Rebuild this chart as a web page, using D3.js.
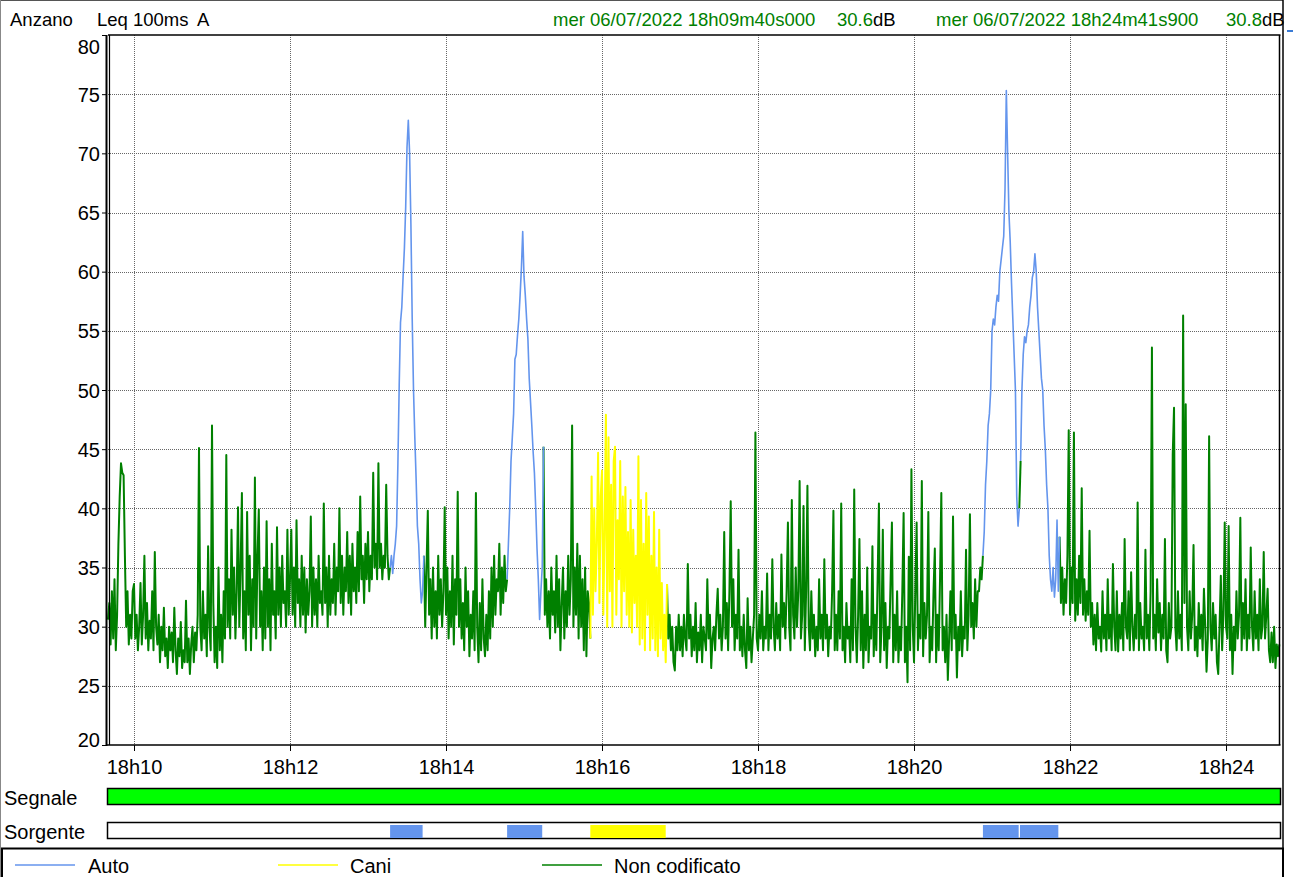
<!DOCTYPE html>
<html>
<head>
<meta charset="utf-8">
<script src="https://cdn.jsdelivr.net/npm/d3@7"></script>
<style>
  body { margin: 0; background: #fff; }
  svg { display: block; font-family: Arial, 'Liberation Sans', sans-serif; }
</style>
</head>
<body>
<svg width="1293" height="877"></svg>
<script>

const levels = [
  30.6, 32, 28.5, 33, 29, 34, 28, 31, 37, 41,
  43.8, 43, 42.8, 36, 30, 33, 28.5, 31, 29, 33,
  33.6, 29, 31, 28, 30, 33.7, 28.5, 31, 36, 29,
  32, 28, 30.5, 29, 33, 28, 36.3, 30, 28.5, 31,
  27, 30, 28, 31.6, 27.5, 29, 26.5, 30, 28, 29.5,
  27, 31.6, 28, 26, 29, 27.5, 30.4, 26.5, 28, 27,
  32.2, 27, 29, 26, 28.5, 30, 27, 29.5, 28, 31,
  45.1, 30, 28, 33, 29, 31, 27.5, 36.8, 30, 28,
  47, 32, 27, 30, 26.5, 35, 28, 31, 27, 33,
  29, 44.5, 30, 34, 29, 38.2, 31, 35, 29, 33,
  40.1, 30, 35, 41.3, 29, 33, 28, 39.7, 31, 36,
  28, 34, 30, 42.6, 29, 36, 39.9, 30, 33, 28,
  35, 29, 38.9, 30, 34, 28, 37, 31, 33, 29,
  38.4, 31, 35, 30, 36, 32, 33, 30, 38.2, 31,
  34, 38.2, 31, 35, 30, 39, 32, 34, 30, 36,
  31, 35, 29.5, 34, 31, 33, 39.3, 30, 35, 31,
  34, 30, 36, 32, 33, 31, 40.4, 32, 35, 30,
  36, 31, 34, 32, 37, 31, 35, 33, 40, 32,
  36, 31, 35, 33, 38, 32, 36, 31, 37, 33,
  35, 32, 38, 33, 41, 34, 36, 32, 37, 34,
  38, 33, 36, 34, 43, 35, 37, 34, 43.8, 35,
  37, 34, 36, 35, 42, 36, 34, 35, 36, 34.5,
  36, 37, 38.5, 43.8, 50.4, 55.7, 57, 59.6, 62, 65.5,
  70.5, 72.8, 70, 64, 56, 50, 46, 42.5, 38.5, 37,
  34, 32, 33, 36, 30, 35, 39.8, 31, 34, 29,
  35, 30, 33, 29, 36, 31, 34, 30, 33, 40.1,
  31, 35, 29, 33, 30, 36, 28.5, 34, 31, 41.4,
  30, 34, 29, 32, 28, 35, 30, 33, 27.5, 31,
  29, 33, 28, 41.3, 30, 27, 32, 28, 34, 29,
  27.5, 31, 28, 33, 29, 35, 30, 36, 31, 34,
  33, 37, 31, 35, 32, 36, 33, 34, 37, 40,
  44, 46, 48, 52.6, 53, 54.6, 56, 58, 60.3, 63.4,
  59.6, 58, 56, 54.3, 51, 49, 47, 44.8, 43, 40,
  36.6, 34, 30.6, 33, 35, 45.2, 31, 34, 30, 33,
  29, 35, 31, 33, 29.5, 36, 30, 34, 28, 32,
  35, 29, 33, 30, 36, 31, 34, 47, 30, 35,
  31, 37, 29, 36, 30, 34, 28, 35, 27.5, 33,
  32, 29, 42.7, 31, 40, 33, 37, 44.7, 32, 41,
  43.2, 31, 38, 47.9, 30, 46, 33, 42, 30, 44,
  45.2, 31, 39, 34, 44, 30, 41, 33, 41.8, 31,
  38, 30, 40.7, 29.5, 38.2, 32, 36, 30, 44.4, 28.5,
  40.7, 29, 37, 28, 41.3, 31, 39.3, 28, 36, 29,
  39.7, 28, 35, 27.5, 38.2, 29, 33.7, 28, 31, 27,
  33.6, 29, 31, 28, 30, 27, 26.3, 30, 28, 31,
  28, 30, 27.5, 31, 29, 28, 35.3, 29, 31, 27.5,
  30, 28, 32, 27, 29.5, 28, 31, 27, 30, 29,
  28, 34, 29, 31, 26.5, 29, 30, 28, 31, 33.2,
  29, 31, 28, 30, 38, 29, 32, 28, 33, 40.6,
  30, 34, 28, 31, 29, 36.5, 28, 30, 27.5, 31,
  28, 26.5, 32.4, 28, 30, 27, 29, 31, 46.4, 29,
  28, 31, 29, 33, 28, 30, 29, 34.5, 28, 31,
  29, 35.7, 30, 28, 32, 29, 31, 28, 36.1, 30,
  32, 29, 33, 38.8, 30, 28, 40.7, 31, 29, 35,
  30, 33, 42.3, 29, 31, 40.2, 28, 33, 41.9, 30,
  28, 33, 29, 31, 27.5, 30, 28, 34, 29, 31,
  28, 35.7, 29, 31, 27.5, 30, 29, 33, 39.8, 28,
  31, 28, 33, 29, 40.4, 28, 30, 27, 32, 29,
  30, 27, 34, 28, 41.6, 30, 27, 31, 37.4, 28,
  33, 26.5, 31, 28, 35, 27, 30, 29, 36.8, 27.5,
  31, 28, 34, 40.4, 27, 30, 38.2, 28, 32, 26.5,
  30, 29, 34, 38.8, 27, 31, 28, 33, 27, 30,
  28, 33, 39.6, 27, 30, 25.3, 35.9, 28, 43.3, 30,
  27, 33, 38.8, 28, 31, 29, 42.3, 27.5, 32, 29,
  31, 39.7, 27, 30, 28, 33, 36.6, 27, 31, 28,
  34, 41.3, 28, 30, 27, 31, 25.5, 29, 33, 28,
  39.3, 29, 31, 25.7, 30, 28, 33, 27.5, 30, 29,
  36.5, 28, 31, 39.5, 30, 32, 29, 34, 30, 33,
  33, 35, 34, 36, 38, 42, 44, 47, 48, 50,
  55, 56, 55.5, 57, 58, 57.5, 60, 61, 62, 63,
  67, 75.3, 70, 65, 62.5, 59, 56, 53, 50, 41,
  38.5, 40, 44, 50, 53, 54.5, 54, 55, 55.5, 57,
  58, 59.5, 60, 61.5, 60, 57, 55, 53, 51, 50,
  47, 45, 42, 40, 36, 34, 33, 35, 32.5, 34,
  39, 33, 37.6, 32, 35, 31, 34, 32, 36, 46.6,
  31, 35, 32, 46.4, 30.5, 34, 31, 36, 32, 41.7,
  31, 34, 30.5, 33, 31, 38.1, 30, 32, 28.5, 31,
  28, 32, 29, 30, 27.9, 33, 29, 31, 28, 34,
  29, 31, 28, 35.3, 30, 28, 33, 27.9, 31, 29,
  32, 28, 37.4, 30, 29, 33, 28, 34.6, 30, 28,
  31, 29, 40.5, 28, 32, 29, 30, 28, 36.5, 29,
  31, 28, 33, 53.6, 29, 31, 28, 34, 29.5, 32,
  28, 31, 29, 37.4, 28, 27, 32, 29, 30, 44.5,
  48.5, 30, 28, 33, 29, 31, 28, 56.3, 32, 48.8,
  30, 28, 33, 29, 31, 36.9, 28, 30, 27.5, 32,
  29, 31, 28, 33.2, 30, 26.2, 29, 46.1, 30, 28,
  32, 29, 31, 27, 26, 30, 34.3, 28, 31, 38.8,
  30, 29, 38.5, 28, 31, 26, 30, 28, 33, 29,
  31, 39.2, 28, 32, 29, 34, 28, 31, 29, 36.7,
  30, 28, 33, 29, 31, 28, 34, 29, 30, 36.3,
  29, 31, 33.2, 28, 27, 29.5, 27, 30, 26.5, 28.5,
  27.5, 28.5
];

// seconds after the start that were coded to a source
const autoSpans = [[217, 242], [307, 334], [673, 700.5], [701.5, 731]];
const caniSpans = [[371, 429]];

const sources = ['Auto', 'Cani', 'Non codificato'];
const sourceColors = ['#6495ed', '#ffff00', '#008000'];

const yTicks = [20, 25, 30, 35, 40, 45, 50, 55, 60, 65, 70, 75, 80];
const startTime = new Date(2022, 6, 6, 18, 9, 40, 0);
const endTime = new Date(2022, 6, 6, 18, 24, 41, 900);

const titleParts = ['Anzano', 'Leq 100ms', 'A'];
const cursors = [
  { label: 'mer 06/07/2022 18h09m40s000', value: '30.6' },
  { label: 'mer 06/07/2022 18h24m41s900', value: '30.8' }
];

const svg = d3.select('svg');
const pLeft = 108, pRight = 1280.5, pTop = 35, pBottom = 745;

const x = d3.scaleTime().domain([startTime, endTime]).range([pLeft, pRight]);
const y = d3.scaleLinear().domain([20, 80]).range([pBottom, pTop]);

// outer frame
svg.append('line').attr('x1', 0).attr('x2', 1283).attr('y1', 0.5).attr('y2', 0.5).attr('stroke', '#555');
svg.append('line').attr('x1', 0.5).attr('x2', 0.5).attr('y1', 0).attr('y2', 877).attr('stroke', '#888');
svg.append('line').attr('x1', 1283).attr('x2', 1283).attr('y1', 0).attr('y2', 877).attr('stroke', '#000').attr('stroke-width', 1.5);
svg.append('line').attr('x1', 1287).attr('x2', 1293).attr('y1', 31).attr('y2', 31).attr('stroke', '#3a7bd5').attr('stroke-width', 2);

// header
const head = svg.append('g').attr('font-size', 18.5);
[10, 97, 197].forEach(function (px, i) {
  head.append('text').attr('x', px).attr('y', 26).text(titleParts[i]);
});
[[553, 837], [936, 1226]].forEach(function (p, i) {
  head.append('text').attr('x', p[0]).attr('y', 26).attr('fill', '#008000').text(cursors[i].label);
  const t = head.append('text').attr('x', p[1]).attr('y', 26);
  t.append('tspan').attr('fill', '#008000').text(cursors[i].value);
  t.append('tspan').attr('fill', '#000').text('dB');
});

// grid
const grid = svg.append('g').attr('stroke', '#666').attr('stroke-dasharray', '1,1').attr('shape-rendering', 'crispEdges');
grid.selectAll('.hg').data(yTicks.slice(1, -1)).enter().append('line')
  .attr('x1', pLeft).attr('x2', pRight)
  .attr('y1', function (d) { return Math.round(y(d)) + 0.5; })
  .attr('y2', function (d) { return Math.round(y(d)) + 0.5; });
grid.selectAll('.vg').data(x.ticks(d3.timeMinute.every(2))).enter().append('line')
  .attr('y1', pTop).attr('y2', pBottom)
  .attr('x1', function (d) { return Math.round(x(d)) + 0.5; })
  .attr('x2', function (d) { return Math.round(x(d)) + 0.5; });

// series, split into runs coloured by the coded source
function sourceOf(t) {
  if (autoSpans.some(function (s) { return t >= s[0] && t <= s[1]; })) return 0;
  if (caniSpans.some(function (s) { return t >= s[0] && t <= s[1]; })) return 1;
  return 2;
}
const pts = levels.map(function (v, i) {
  return { t: i, date: new Date(startTime.getTime() + i * 1000), v: v, src: sourceOf(i) };
});
const runs = [];
pts.forEach(function (p, i) {
  if (i === 0 || p.src !== pts[i - 1].src) runs.push({ src: p.src, pts: [] });
  runs[runs.length - 1].pts.push(p);
});
runs.forEach(function (r, i) {
  if (i < runs.length - 1) r.pts.push(runs[i + 1].pts[0]);
});

const line = d3.line()
  .x(function (d) { return x(d.date); })
  .y(function (d) { return y(d.v); });

const order = [2, 0, 1];
svg.append('g').selectAll('path')
  .data(runs.slice().sort(function (a, b) { return order.indexOf(a.src) - order.indexOf(b.src); }))
  .enter().append('path')
  .attr('fill', 'none')
  .attr('stroke', function (d) { return sourceColors[d.src]; })
  .attr('stroke-width', function (d) { return d.src === 0 ? 1.6 : 2; })
  .attr('stroke-linejoin', 'round')
  .attr('d', function (d) { return line(d.pts); });

// frame of the plot
const frame = svg.append('g').attr('stroke', '#000').attr('fill', 'none');
frame.append('line').attr('x1', pLeft).attr('x2', pRight).attr('y1', pTop).attr('y2', pTop).attr('stroke-width', 1.5);
frame.append('line').attr('x1', pLeft - 2).attr('x2', pRight).attr('y1', pBottom).attr('y2', pBottom).attr('stroke-width', 1.5);
frame.append('line').attr('x1', 106.5).attr('x2', 106.5).attr('y1', pTop).attr('y2', pBottom + 1).attr('stroke-width', 2);
frame.append('line').attr('x1', 109.5).attr('x2', 109.5).attr('y1', pTop).attr('y2', pBottom).attr('stroke-width', 1.2);
frame.append('line').attr('x1', 1279.5).attr('x2', 1279.5).attr('y1', pTop).attr('y2', pBottom).attr('stroke-width', 1.5);

// axes
const yAxis = svg.append('g').attr('transform', 'translate(106,0)')
  .call(d3.axisLeft(y).tickValues(yTicks).tickSize(4).tickPadding(2));
yAxis.select('.domain').remove();
yAxis.selectAll('text')
  .attr('font-size', 20).attr('font-family', null).attr('fill', '#000')
  .attr('dy', function (d) {
    const c = Math.min(Math.max(y(d), 46), 739);
    return (c - y(d) + 7) + 'px';
  });

const xAxis = svg.append('g').attr('transform', 'translate(0,' + pBottom + ')')
  .call(d3.axisBottom(x).ticks(d3.timeMinute.every(2)).tickFormat(d3.timeFormat('%Hh%M')).tickSize(6).tickPadding(9));
xAxis.select('.domain').remove();
xAxis.selectAll('text').attr('font-size', 20).attr('font-family', null).attr('fill', '#000');

// Segnale / Sorgente strips
svg.append('text').attr('x', 4).attr('y', 805).attr('font-size', 20).text('Segnale');
svg.append('rect').attr('x', 107.5).attr('y', 788.5).attr('width', 1173).attr('height', 16)
  .attr('fill', '#00ff00').attr('stroke', '#000').attr('stroke-width', 1.5);

svg.append('text').attr('x', 4).attr('y', 839).attr('font-size', 20).text('Sorgente');
svg.append('rect').attr('x', 107.5).attr('y', 822.5).attr('width', 1173).attr('height', 16)
  .attr('fill', '#fff').attr('stroke', '#000').attr('stroke-width', 1.5);
const spans = autoSpans.map(function (s) { return { s: s, src: 0 }; })
  .concat(caniSpans.map(function (s) { return { s: s, src: 1 }; }));
svg.append('g').selectAll('rect').data(spans).enter().append('rect')
  .attr('x', function (d) { return x(new Date(startTime.getTime() + d.s[0] * 1000)); })
  .attr('width', function (d) { return x(new Date(startTime.getTime() + d.s[1] * 1000)) - x(new Date(startTime.getTime() + d.s[0] * 1000)); })
  .attr('y', 825).attr('height', 13)
  .attr('fill', function (d) { return sourceColors[d.src]; });

// legend
svg.append('rect').attr('x', 2).attr('y', 848.5).attr('width', 1281).attr('height', 40)
  .attr('fill', 'none').attr('stroke', '#000').attr('stroke-width', 2);
const legend = svg.append('g').selectAll('g').data(sources).enter().append('g')
  .attr('transform', function (d, i) { return 'translate(' + [15, 278, 542][i] + ',0)'; });
legend.append('line').attr('x1', 0).attr('x2', 60).attr('y1', 865).attr('y2', 865)
  .attr('stroke', function (d, i) { return sourceColors[i]; }).attr('stroke-width', 1.5);
legend.append('text').attr('x', function (d, i) { return [73, 72, 72][i]; }).attr('y', 873)
  .attr('font-size', 20).text(function (d) { return d; });

</script>
</body>
</html>
